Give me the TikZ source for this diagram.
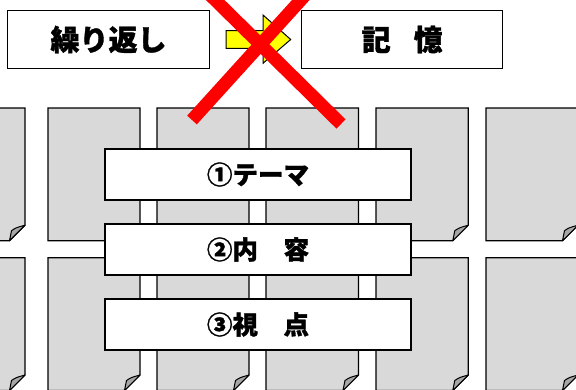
\documentclass[tikz,border=0pt]{standalone}
\usepackage{fontspec}
\newfontfamily\jp{Noto Sans CJK JP}[BoldFeatures={FakeBold=1.2}]
\definecolor{pagegray}{RGB}{217,217,217}
\definecolor{curlgray}{RGB}{166,166,166}
\definecolor{xred}{RGB}{255,0,0}
\definecolor{arrowyellow}{RGB}{255,255,0}
\tikzset{
  pagebox/.style={fill=pagegray, draw=black, line width=1.3pt, line join=miter},
  curlbox/.style={fill=curlgray, draw=black, line width=1pt, line join=round},
  topbox/.style={draw=black, fill=white, line width=1.3pt, minimum width=201pt, minimum height=57.6pt, inner sep=0pt,
    font=\jp\bfseries\fontsize{29pt}{29pt}\selectfont},
  labelbox/.style={draw=black, fill=white, line width=1.3pt, minimum width=306pt, minimum height=51pt, inner sep=0pt,
    font=\jp\bfseries\fontsize{25.5pt}{25.5pt}\selectfont},
  xstroke/.style={draw=xred, line width=13pt, line cap=butt},
  yarrow/.style={fill=arrowyellow, draw=black, line width=1pt, line join=miter}
}
\begin{document}
\begin{tikzpicture}[x=1pt,y=-1pt]
\useasboundingbox (0,0) rectangle (576,389);
\clip (0,0) rectangle (576,389);
\fill[white] (0,0) rectangle (576,389);
% pages
\foreach \L/\R in {-67/25, 48/140, 157/249, 266/358.5, 376/468.3, 486/578}{
  \foreach \T/\B in {108/240.7, 257.7/390.5}{
    \draw[pagebox] (\L,\T) -- (\R,\T) -- (\R,\B-15.5) -- (\R-15.5,\B) -- (\L,\B) -- cycle;
    \draw[curlbox] (\R-15.5,\B) -- (\R-13.5,\B-10) .. controls (\R-9,\B-13) .. (\R,\B-15.5) -- cycle;
  }
}
% top boxes
\node[topbox, minimum width=202pt] (rep) at (108.5,39.5) {繰り返し};
\node[topbox] (mem) at (402.2,39.5) {記\hspace{23pt}憶};
% yellow arrow
\draw[yarrow] (226,30.7) -- (263,30.7) -- (263,15) -- (290.7,39.5) -- (263,63.3) -- (263,48.3) -- (226,48.3) -- cycle;
% label boxes
\node[labelbox] (l1) at (258,174.5) {①テーマ};
\node[labelbox] (l2) at (258,249.5) {②内　容};
\node[labelbox] (l3) at (258,324.5) {③視　点};
% red cross
\draw[xstroke] (200,-15) -- (341,124);
\draw[xstroke] (314.4,-15) -- (192,120);
\end{tikzpicture}
\end{document}
